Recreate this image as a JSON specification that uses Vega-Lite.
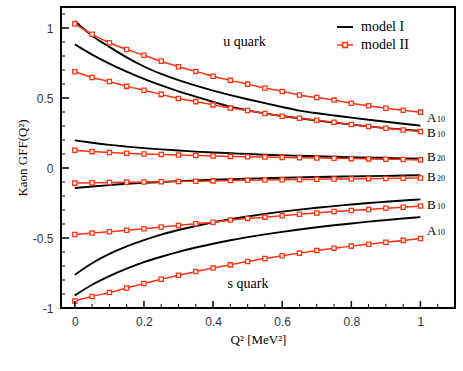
{
  "$schema": "https://vega.github.io/schema/vega-lite/v6.json",
  "width": 394,
  "height": 301,
  "autosize": {"type": "none"},
  "padding": {"left": 61, "top": 7, "right": 8, "bottom": 63},
  "config": {
    "view": {"stroke": "#000", "strokeWidth": 2},
    "axis": {
      "grid": false,
      "domain": false,
      "ticks": false,
      "labelFont": "Liberation Sans",
      "labelFontSize": 12,
      "labelColor": "#333",
      "titleFont": "Liberation Serif",
      "titleFontSize": 13,
      "titleFontWeight": "normal",
      "titleColor": "#000"
    }
  },
  "datasets": {
    "curves": [
      {"q":0,"v":1.05,"m":"model I","s":"uA10"},{"q":0.05,"v":0.945,"m":"model I","s":"uA10"},{"q":0.1,"v":0.865,"m":"model I","s":"uA10"},{"q":0.15,"v":0.79,"m":"model I","s":"uA10"},{"q":0.2,"v":0.725,"m":"model I","s":"uA10"},{"q":0.25,"v":0.672,"m":"model I","s":"uA10"},{"q":0.3,"v":0.627,"m":"model I","s":"uA10"},{"q":0.35,"v":0.588,"m":"model I","s":"uA10"},{"q":0.4,"v":0.553,"m":"model I","s":"uA10"},{"q":0.45,"v":0.521,"m":"model I","s":"uA10"},{"q":0.5,"v":0.491,"m":"model I","s":"uA10"},{"q":0.55,"v":0.463,"m":"model I","s":"uA10"},{"q":0.6,"v":0.436,"m":"model I","s":"uA10"},{"q":0.65,"v":0.41,"m":"model I","s":"uA10"},{"q":0.7,"v":0.391,"m":"model I","s":"uA10"},{"q":0.75,"v":0.375,"m":"model I","s":"uA10"},{"q":0.8,"v":0.36,"m":"model I","s":"uA10"},{"q":0.85,"v":0.345,"m":"model I","s":"uA10"},{"q":0.9,"v":0.33,"m":"model I","s":"uA10"},{"q":0.95,"v":0.316,"m":"model I","s":"uA10"},{"q":1,"v":0.303,"m":"model I","s":"uA10"},
      {"q":0,"v":0.883,"m":"model I","s":"uB10"},{"q":0.05,"v":0.81,"m":"model I","s":"uB10"},{"q":0.1,"v":0.745,"m":"model I","s":"uB10"},{"q":0.15,"v":0.688,"m":"model I","s":"uB10"},{"q":0.2,"v":0.636,"m":"model I","s":"uB10"},{"q":0.25,"v":0.59,"m":"model I","s":"uB10"},{"q":0.3,"v":0.548,"m":"model I","s":"uB10"},{"q":0.35,"v":0.51,"m":"model I","s":"uB10"},{"q":0.4,"v":0.472,"m":"model I","s":"uB10"},{"q":0.45,"v":0.438,"m":"model I","s":"uB10"},{"q":0.5,"v":0.412,"m":"model I","s":"uB10"},{"q":0.55,"v":0.39,"m":"model I","s":"uB10"},{"q":0.6,"v":0.371,"m":"model I","s":"uB10"},{"q":0.65,"v":0.355,"m":"model I","s":"uB10"},{"q":0.7,"v":0.339,"m":"model I","s":"uB10"},{"q":0.75,"v":0.324,"m":"model I","s":"uB10"},{"q":0.8,"v":0.31,"m":"model I","s":"uB10"},{"q":0.85,"v":0.297,"m":"model I","s":"uB10"},{"q":0.9,"v":0.285,"m":"model I","s":"uB10"},{"q":0.95,"v":0.275,"m":"model I","s":"uB10"},{"q":1,"v":0.265,"m":"model I","s":"uB10"},
      {"q":0,"v":0.197,"m":"model I","s":"uB20"},{"q":0.05,"v":0.18,"m":"model I","s":"uB20"},{"q":0.1,"v":0.165,"m":"model I","s":"uB20"},{"q":0.15,"v":0.153,"m":"model I","s":"uB20"},{"q":0.2,"v":0.142,"m":"model I","s":"uB20"},{"q":0.25,"v":0.133,"m":"model I","s":"uB20"},{"q":0.3,"v":0.125,"m":"model I","s":"uB20"},{"q":0.35,"v":0.117,"m":"model I","s":"uB20"},{"q":0.4,"v":0.111,"m":"model I","s":"uB20"},{"q":0.45,"v":0.105,"m":"model I","s":"uB20"},{"q":0.5,"v":0.1,"m":"model I","s":"uB20"},{"q":0.55,"v":0.095,"m":"model I","s":"uB20"},{"q":0.6,"v":0.091,"m":"model I","s":"uB20"},{"q":0.65,"v":0.087,"m":"model I","s":"uB20"},{"q":0.7,"v":0.084,"m":"model I","s":"uB20"},{"q":0.75,"v":0.08,"m":"model I","s":"uB20"},{"q":0.8,"v":0.077,"m":"model I","s":"uB20"},{"q":0.85,"v":0.074,"m":"model I","s":"uB20"},{"q":0.9,"v":0.072,"m":"model I","s":"uB20"},{"q":0.95,"v":0.069,"m":"model I","s":"uB20"},{"q":1,"v":0.067,"m":"model I","s":"uB20"},
      {"q":0,"v":-0.143,"m":"model I","s":"sB20"},{"q":0.05,"v":-0.132,"m":"model I","s":"sB20"},{"q":0.1,"v":-0.122,"m":"model I","s":"sB20"},{"q":0.15,"v":-0.113,"m":"model I","s":"sB20"},{"q":0.2,"v":-0.106,"m":"model I","s":"sB20"},{"q":0.25,"v":-0.1,"m":"model I","s":"sB20"},{"q":0.3,"v":-0.094,"m":"model I","s":"sB20"},{"q":0.35,"v":-0.089,"m":"model I","s":"sB20"},{"q":0.4,"v":-0.084,"m":"model I","s":"sB20"},{"q":0.45,"v":-0.08,"m":"model I","s":"sB20"},{"q":0.5,"v":-0.076,"m":"model I","s":"sB20"},{"q":0.55,"v":-0.073,"m":"model I","s":"sB20"},{"q":0.6,"v":-0.07,"m":"model I","s":"sB20"},{"q":0.65,"v":-0.067,"m":"model I","s":"sB20"},{"q":0.7,"v":-0.064,"m":"model I","s":"sB20"},{"q":0.75,"v":-0.062,"m":"model I","s":"sB20"},{"q":0.8,"v":-0.06,"m":"model I","s":"sB20"},{"q":0.85,"v":-0.058,"m":"model I","s":"sB20"},{"q":0.9,"v":-0.056,"m":"model I","s":"sB20"},{"q":0.95,"v":-0.054,"m":"model I","s":"sB20"},{"q":1,"v":-0.052,"m":"model I","s":"sB20"},
      {"q":0,"v":-0.762,"m":"model I","s":"sB10"},{"q":0.05,"v":-0.68,"m":"model I","s":"sB10"},{"q":0.1,"v":-0.614,"m":"model I","s":"sB10"},{"q":0.15,"v":-0.56,"m":"model I","s":"sB10"},{"q":0.2,"v":-0.515,"m":"model I","s":"sB10"},{"q":0.25,"v":-0.476,"m":"model I","s":"sB10"},{"q":0.3,"v":-0.443,"m":"model I","s":"sB10"},{"q":0.35,"v":-0.414,"m":"model I","s":"sB10"},{"q":0.4,"v":-0.388,"m":"model I","s":"sB10"},{"q":0.45,"v":-0.366,"m":"model I","s":"sB10"},{"q":0.5,"v":-0.346,"m":"model I","s":"sB10"},{"q":0.55,"v":-0.328,"m":"model I","s":"sB10"},{"q":0.6,"v":-0.312,"m":"model I","s":"sB10"},{"q":0.65,"v":-0.297,"m":"model I","s":"sB10"},{"q":0.7,"v":-0.284,"m":"model I","s":"sB10"},{"q":0.75,"v":-0.272,"m":"model I","s":"sB10"},{"q":0.8,"v":-0.261,"m":"model I","s":"sB10"},{"q":0.85,"v":-0.25,"m":"model I","s":"sB10"},{"q":0.9,"v":-0.241,"m":"model I","s":"sB10"},{"q":0.95,"v":-0.232,"m":"model I","s":"sB10"},{"q":1,"v":-0.224,"m":"model I","s":"sB10"},
      {"q":0,"v":-0.91,"m":"model I","s":"sA10"},{"q":0.05,"v":-0.834,"m":"model I","s":"sA10"},{"q":0.1,"v":-0.772,"m":"model I","s":"sA10"},{"q":0.15,"v":-0.719,"m":"model I","s":"sA10"},{"q":0.2,"v":-0.673,"m":"model I","s":"sA10"},{"q":0.25,"v":-0.634,"m":"model I","s":"sA10"},{"q":0.3,"v":-0.599,"m":"model I","s":"sA10"},{"q":0.35,"v":-0.568,"m":"model I","s":"sA10"},{"q":0.4,"v":-0.541,"m":"model I","s":"sA10"},{"q":0.45,"v":-0.516,"m":"model I","s":"sA10"},{"q":0.5,"v":-0.494,"m":"model I","s":"sA10"},{"q":0.55,"v":-0.474,"m":"model I","s":"sA10"},{"q":0.6,"v":-0.456,"m":"model I","s":"sA10"},{"q":0.65,"v":-0.439,"m":"model I","s":"sA10"},{"q":0.7,"v":-0.423,"m":"model I","s":"sA10"},{"q":0.75,"v":-0.409,"m":"model I","s":"sA10"},{"q":0.8,"v":-0.396,"m":"model I","s":"sA10"},{"q":0.85,"v":-0.383,"m":"model I","s":"sA10"},{"q":0.9,"v":-0.372,"m":"model I","s":"sA10"},{"q":0.95,"v":-0.361,"m":"model I","s":"sA10"},{"q":1,"v":-0.351,"m":"model I","s":"sA10"},
      {"q":0,"v":1.03,"m":"model II","s":"uA10"},{"q":0.05,"v":0.955,"m":"model II","s":"uA10"},{"q":0.1,"v":0.895,"m":"model II","s":"uA10"},{"q":0.15,"v":0.847,"m":"model II","s":"uA10"},{"q":0.2,"v":0.805,"m":"model II","s":"uA10"},{"q":0.25,"v":0.762,"m":"model II","s":"uA10"},{"q":0.3,"v":0.723,"m":"model II","s":"uA10"},{"q":0.35,"v":0.69,"m":"model II","s":"uA10"},{"q":0.4,"v":0.656,"m":"model II","s":"uA10"},{"q":0.45,"v":0.626,"m":"model II","s":"uA10"},{"q":0.5,"v":0.599,"m":"model II","s":"uA10"},{"q":0.55,"v":0.571,"m":"model II","s":"uA10"},{"q":0.6,"v":0.547,"m":"model II","s":"uA10"},{"q":0.65,"v":0.522,"m":"model II","s":"uA10"},{"q":0.7,"v":0.503,"m":"model II","s":"uA10"},{"q":0.75,"v":0.485,"m":"model II","s":"uA10"},{"q":0.8,"v":0.463,"m":"model II","s":"uA10"},{"q":0.85,"v":0.444,"m":"model II","s":"uA10"},{"q":0.9,"v":0.427,"m":"model II","s":"uA10"},{"q":0.95,"v":0.413,"m":"model II","s":"uA10"},{"q":1,"v":0.399,"m":"model II","s":"uA10"},
      {"q":0,"v":0.687,"m":"model II","s":"uB10"},{"q":0.05,"v":0.647,"m":"model II","s":"uB10"},{"q":0.1,"v":0.618,"m":"model II","s":"uB10"},{"q":0.15,"v":0.583,"m":"model II","s":"uB10"},{"q":0.2,"v":0.556,"m":"model II","s":"uB10"},{"q":0.25,"v":0.526,"m":"model II","s":"uB10"},{"q":0.3,"v":0.497,"m":"model II","s":"uB10"},{"q":0.35,"v":0.474,"m":"model II","s":"uB10"},{"q":0.4,"v":0.451,"m":"model II","s":"uB10"},{"q":0.45,"v":0.429,"m":"model II","s":"uB10"},{"q":0.5,"v":0.411,"m":"model II","s":"uB10"},{"q":0.55,"v":0.389,"m":"model II","s":"uB10"},{"q":0.6,"v":0.37,"m":"model II","s":"uB10"},{"q":0.65,"v":0.355,"m":"model II","s":"uB10"},{"q":0.7,"v":0.341,"m":"model II","s":"uB10"},{"q":0.75,"v":0.327,"m":"model II","s":"uB10"},{"q":0.8,"v":0.311,"m":"model II","s":"uB10"},{"q":0.85,"v":0.296,"m":"model II","s":"uB10"},{"q":0.9,"v":0.284,"m":"model II","s":"uB10"},{"q":0.95,"v":0.272,"m":"model II","s":"uB10"},{"q":1,"v":0.26,"m":"model II","s":"uB10"},
      {"q":0,"v":0.127,"m":"model II","s":"uB20"},{"q":0.05,"v":0.117,"m":"model II","s":"uB20"},{"q":0.1,"v":0.11,"m":"model II","s":"uB20"},{"q":0.15,"v":0.105,"m":"model II","s":"uB20"},{"q":0.2,"v":0.1,"m":"model II","s":"uB20"},{"q":0.25,"v":0.096,"m":"model II","s":"uB20"},{"q":0.3,"v":0.093,"m":"model II","s":"uB20"},{"q":0.35,"v":0.089,"m":"model II","s":"uB20"},{"q":0.4,"v":0.086,"m":"model II","s":"uB20"},{"q":0.45,"v":0.083,"m":"model II","s":"uB20"},{"q":0.5,"v":0.08,"m":"model II","s":"uB20"},{"q":0.55,"v":0.078,"m":"model II","s":"uB20"},{"q":0.6,"v":0.076,"m":"model II","s":"uB20"},{"q":0.65,"v":0.073,"m":"model II","s":"uB20"},{"q":0.7,"v":0.071,"m":"model II","s":"uB20"},{"q":0.75,"v":0.069,"m":"model II","s":"uB20"},{"q":0.8,"v":0.067,"m":"model II","s":"uB20"},{"q":0.85,"v":0.065,"m":"model II","s":"uB20"},{"q":0.9,"v":0.063,"m":"model II","s":"uB20"},{"q":0.95,"v":0.061,"m":"model II","s":"uB20"},{"q":1,"v":0.058,"m":"model II","s":"uB20"},
      {"q":0,"v":-0.108,"m":"model II","s":"sB20"},{"q":0.05,"v":-0.106,"m":"model II","s":"sB20"},{"q":0.1,"v":-0.104,"m":"model II","s":"sB20"},{"q":0.15,"v":-0.102,"m":"model II","s":"sB20"},{"q":0.2,"v":-0.1,"m":"model II","s":"sB20"},{"q":0.25,"v":-0.098,"m":"model II","s":"sB20"},{"q":0.3,"v":-0.096,"m":"model II","s":"sB20"},{"q":0.35,"v":-0.094,"m":"model II","s":"sB20"},{"q":0.4,"v":-0.092,"m":"model II","s":"sB20"},{"q":0.45,"v":-0.09,"m":"model II","s":"sB20"},{"q":0.5,"v":-0.088,"m":"model II","s":"sB20"},{"q":0.55,"v":-0.086,"m":"model II","s":"sB20"},{"q":0.6,"v":-0.084,"m":"model II","s":"sB20"},{"q":0.65,"v":-0.083,"m":"model II","s":"sB20"},{"q":0.7,"v":-0.081,"m":"model II","s":"sB20"},{"q":0.75,"v":-0.079,"m":"model II","s":"sB20"},{"q":0.8,"v":-0.078,"m":"model II","s":"sB20"},{"q":0.85,"v":-0.076,"m":"model II","s":"sB20"},{"q":0.9,"v":-0.075,"m":"model II","s":"sB20"},{"q":0.95,"v":-0.073,"m":"model II","s":"sB20"},{"q":1,"v":-0.071,"m":"model II","s":"sB20"},
      {"q":0,"v":-0.475,"m":"model II","s":"sB10"},{"q":0.05,"v":-0.465,"m":"model II","s":"sB10"},{"q":0.1,"v":-0.456,"m":"model II","s":"sB10"},{"q":0.15,"v":-0.444,"m":"model II","s":"sB10"},{"q":0.2,"v":-0.434,"m":"model II","s":"sB10"},{"q":0.25,"v":-0.422,"m":"model II","s":"sB10"},{"q":0.3,"v":-0.41,"m":"model II","s":"sB10"},{"q":0.35,"v":-0.398,"m":"model II","s":"sB10"},{"q":0.4,"v":-0.387,"m":"model II","s":"sB10"},{"q":0.45,"v":-0.372,"m":"model II","s":"sB10"},{"q":0.5,"v":-0.36,"m":"model II","s":"sB10"},{"q":0.55,"v":-0.351,"m":"model II","s":"sB10"},{"q":0.6,"v":-0.341,"m":"model II","s":"sB10"},{"q":0.65,"v":-0.33,"m":"model II","s":"sB10"},{"q":0.7,"v":-0.321,"m":"model II","s":"sB10"},{"q":0.75,"v":-0.311,"m":"model II","s":"sB10"},{"q":0.8,"v":-0.303,"m":"model II","s":"sB10"},{"q":0.85,"v":-0.296,"m":"model II","s":"sB10"},{"q":0.9,"v":-0.288,"m":"model II","s":"sB10"},{"q":0.95,"v":-0.28,"m":"model II","s":"sB10"},{"q":1,"v":-0.272,"m":"model II","s":"sB10"},
      {"q":0,"v":-0.95,"m":"model II","s":"sA10"},{"q":0.05,"v":-0.918,"m":"model II","s":"sA10"},{"q":0.1,"v":-0.89,"m":"model II","s":"sA10"},{"q":0.15,"v":-0.857,"m":"model II","s":"sA10"},{"q":0.2,"v":-0.825,"m":"model II","s":"sA10"},{"q":0.25,"v":-0.795,"m":"model II","s":"sA10"},{"q":0.3,"v":-0.766,"m":"model II","s":"sA10"},{"q":0.35,"v":-0.74,"m":"model II","s":"sA10"},{"q":0.4,"v":-0.715,"m":"model II","s":"sA10"},{"q":0.45,"v":-0.692,"m":"model II","s":"sA10"},{"q":0.5,"v":-0.668,"m":"model II","s":"sA10"},{"q":0.55,"v":-0.646,"m":"model II","s":"sA10"},{"q":0.6,"v":-0.627,"m":"model II","s":"sA10"},{"q":0.65,"v":-0.608,"m":"model II","s":"sA10"},{"q":0.7,"v":-0.59,"m":"model II","s":"sA10"},{"q":0.75,"v":-0.573,"m":"model II","s":"sA10"},{"q":0.8,"v":-0.558,"m":"model II","s":"sA10"},{"q":0.85,"v":-0.544,"m":"model II","s":"sA10"},{"q":0.9,"v":-0.53,"m":"model II","s":"sA10"},{"q":0.95,"v":-0.517,"m":"model II","s":"sA10"},{"q":1,"v":-0.503,"m":"model II","s":"sA10"}
    ],
    "xticks": [
      {"q":0,"k":"major"},{"q":0.2,"k":"major"},{"q":0.4,"k":"major"},{"q":0.6,"k":"major"},{"q":0.8,"k":"major"},{"q":1,"k":"major"},
      {"q":0.05,"k":"minor"},{"q":0.1,"k":"minor"},{"q":0.15,"k":"minor"},{"q":0.25,"k":"minor"},{"q":0.3,"k":"minor"},{"q":0.35,"k":"minor"},{"q":0.45,"k":"minor"},{"q":0.5,"k":"minor"},{"q":0.55,"k":"minor"},{"q":0.65,"k":"minor"},{"q":0.7,"k":"minor"},{"q":0.75,"k":"minor"},{"q":0.85,"k":"minor"},{"q":0.9,"k":"minor"},{"q":0.95,"k":"minor"},{"q":1.05,"k":"minor"}
    ],
    "yticks": [
      {"v":-1,"k":"major"},{"v":-0.5,"k":"major"},{"v":0,"k":"major"},{"v":0.5,"k":"major"},{"v":1,"k":"major"},
      {"v":-0.9,"k":"minor"},{"v":-0.8,"k":"minor"},{"v":-0.7,"k":"minor"},{"v":-0.6,"k":"minor"},{"v":-0.4,"k":"minor"},{"v":-0.3,"k":"minor"},{"v":-0.2,"k":"minor"},{"v":-0.1,"k":"minor"},{"v":0.1,"k":"minor"},{"v":0.2,"k":"minor"},{"v":0.3,"k":"minor"},{"v":0.4,"k":"minor"},{"v":0.6,"k":"minor"},{"v":0.7,"k":"minor"},{"v":0.8,"k":"minor"},{"v":0.9,"k":"minor"},{"v":1.1,"k":"minor"}
    ],
    "tags": [
      {"q":1.019,"v":0.36,"letter":"A","sub":"10"},
      {"q":1.019,"v":0.252,"letter":"B","sub":"10"},
      {"q":1.019,"v":0.077,"letter":"B","sub":"20"},
      {"q":1.019,"v":-0.062,"letter":"B","sub":"20"},
      {"q":1.019,"v":-0.267,"letter":"B","sub":"10"},
      {"q":1.019,"v":-0.453,"letter":"A","sub":"10"}
    ],
    "notes": [
      {"q":0.491,"v":0.9,"text":"u quark"},
      {"q":0.501,"v":-0.828,"text":"s quark"}
    ]
  },
  "layer": [
    {
      "data": {"name": "curves"},
      "mark": {"type": "line", "interpolate": "monotone"},
      "encoding": {
        "x": {"field": "q", "type": "quantitative",
          "scale": {"domain": [-0.04, 1.1], "nice": false, "zero": false},
          "axis": {"orient": "bottom", "ticks": false, "values": [0, 0.2, 0.4, 0.6, 0.8, 1], "labelExpr": "'' + datum.value", "labelPadding": 8, "title": "Q² [MeV²]", "titlePadding": 6}},
        "y": {"field": "v", "type": "quantitative",
          "scale": {"domain": [-1, 1.15], "nice": false, "zero": false},
          "axis": {"orient": "left", "ticks": false, "values": [-1, -0.5, 0, 0.5, 1], "labelExpr": "'' + datum.value", "labelPadding": 8, "title": "Kaon GFF(Q²)", "titlePadding": 3}},
        "detail": {"field": "s"},
        "color": {"field": "m", "type": "nominal",
          "scale": {"domain": ["model I", "model II"], "range": ["#000000", "#ff3311"]},
          "legend": {"orient": "none", "legendX": 275, "legendY": 11, "title": null, "padding": 0,
            "labelFont": "Liberation Serif", "labelFontSize": 14, "labelColor": "#000", "labelOffset": 7,
            "symbolSize": 256, "symbolStrokeWidth": 1.6, "rowPadding": 2,
            "encode": {"symbols": {"update": {
              "shape": {"signal": "datum.value == 'model II' ? 'M-1,0H-0.3M0.3,0H1M-0.3,-0.3H0.3V0.3H-0.3Z' : 'M-1,0H1'"},
              "fill": {"value": "white"}
            }}}}},
        "strokeWidth": {"field": "m", "type": "nominal", "scale": {"domain": ["model I", "model II"], "range": [1.9, 1.5]}, "legend": null}
      }
    },
    {
      "mark": {"type": "rule", "color": "#c8c8c8", "strokeWidth": 2.5},
      "encoding": {"y": {"datum": 0, "type": "quantitative"}}
    },
    {
      "data": {"name": "curves"},
      "transform": [{"filter": "datum.m == 'model II'"}],
      "mark": {"type": "point", "shape": "square", "filled": true, "fill": "white", "stroke": "#ff3311", "strokeWidth": 1.3, "size": 18, "opacity": 1},
      "encoding": {
        "x": {"field": "q", "type": "quantitative"},
        "y": {"field": "v", "type": "quantitative"}
      }
    },
    {
      "data": {"name": "xticks"},
      "transform": [{"filter": "datum.k == 'major'"}],
      "mark": {"type": "rule", "color": "#000", "strokeWidth": 1.5},
      "encoding": {
        "x": {"field": "q", "type": "quantitative"},
        "y": {"datum": -1, "type": "quantitative"},
        "y2": {"datum": -0.95}
      }
    },
    {
      "data": {"name": "xticks"},
      "transform": [{"filter": "datum.k == 'minor'"}],
      "mark": {"type": "rule", "color": "#000", "strokeWidth": 1},
      "encoding": {
        "x": {"field": "q", "type": "quantitative"},
        "y": {"datum": -1, "type": "quantitative"},
        "y2": {"datum": -0.971}
      }
    },
    {
      "data": {"name": "yticks"},
      "transform": [{"filter": "datum.k == 'major'"}],
      "mark": {"type": "rule", "color": "#000", "strokeWidth": 1.5},
      "encoding": {
        "y": {"field": "v", "type": "quantitative"},
        "x": {"datum": -0.04, "type": "quantitative"},
        "x2": {"datum": -0.017}
      }
    },
    {
      "data": {"name": "yticks"},
      "transform": [{"filter": "datum.k == 'minor'"}],
      "mark": {"type": "rule", "color": "#000", "strokeWidth": 1},
      "encoding": {
        "y": {"field": "v", "type": "quantitative"},
        "x": {"datum": -0.04, "type": "quantitative"},
        "x2": {"datum": -0.0284}
      }
    },
    {
      "data": {"name": "tags"},
      "mark": {"type": "text", "align": "left", "baseline": "middle", "font": "Liberation Serif", "fontSize": 13, "fill": "#000"},
      "encoding": {
        "x": {"field": "q", "type": "quantitative"},
        "y": {"field": "v", "type": "quantitative"},
        "text": {"field": "letter"}
      }
    },
    {
      "data": {"name": "tags"},
      "mark": {"type": "text", "align": "left", "baseline": "middle", "font": "Liberation Serif", "fontSize": 8, "fill": "#000", "dx": 10, "dy": 2},
      "encoding": {
        "x": {"field": "q", "type": "quantitative"},
        "y": {"field": "v", "type": "quantitative"},
        "text": {"field": "sub"}
      }
    },
    {
      "data": {"name": "notes"},
      "mark": {"type": "text", "align": "center", "baseline": "middle", "font": "Liberation Serif", "fontSize": 14, "fill": "#000"},
      "encoding": {
        "x": {"field": "q", "type": "quantitative"},
        "y": {"field": "v", "type": "quantitative"},
        "text": {"field": "text"}
      }
    }
  ]
}
